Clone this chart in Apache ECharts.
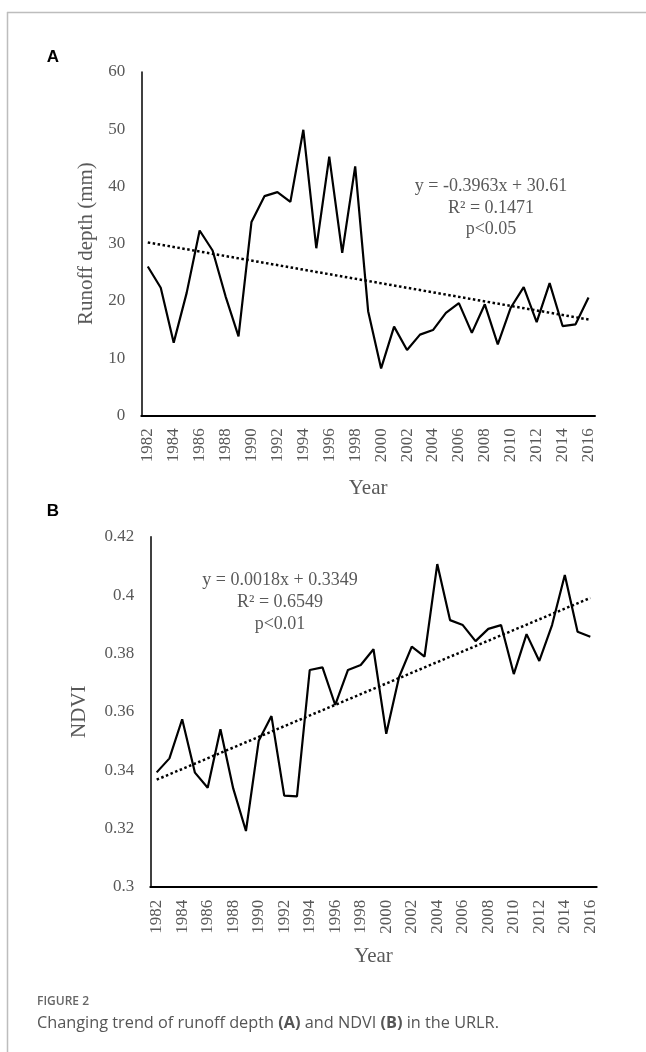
<!DOCTYPE html>
<html>
<head>
<meta charset="utf-8">
<style>
html,body{margin:0;padding:0;background:#fff;}
#c{width:646px;height:1052px;}
</style>
<script src="https://cdn.jsdelivr.net/npm/echarts@6/dist/echarts.min.js"></script>
</head>
<body>
<div id="c"></div>
<script>
const years = ['1982','1983','1984','1985','1986','1987','1988','1989','1990','1991','1992','1993','1994','1995','1996','1997','1998','1999','2000','2001','2002','2003','2004','2005','2006','2007','2008','2009','2010','2011','2012','2013','2014','2015','2016'];
const runoff = [26.0,22.3,12.7,21.4,32.3,28.8,20.8,13.8,33.8,38.3,39.0,37.3,49.9,29.2,45.2,28.4,43.5,18.2,8.2,15.5,11.4,14.1,14.9,17.9,19.6,14.4,19.4,12.4,18.8,22.4,16.3,23.1,15.6,15.9,20.6];
const ndvi = [0.3392,0.3440,0.3574,0.3391,0.3339,0.3540,0.3337,0.3191,0.3500,0.3585,0.3312,0.3310,0.3743,0.3752,0.3623,0.3743,0.3760,0.3814,0.3524,0.3718,0.3823,0.3789,0.4106,0.3914,0.3897,0.3842,0.3884,0.3897,0.3729,0.3866,0.3774,0.3897,0.4069,0.3874,0.3857];
const trendRunoff = [['1982', 30.21], ['2016', 16.74]];
const trendNdvi = [['1982', 0.3367], ['2016', 0.3990]];
const eqRunoff = 'y = -0.3963x + 30.61\nR² = 0.1471\np<0.05';
const eqNdvi = 'y = 0.0018x + 0.3349\nR² = 0.6549\np<0.01';

const SERIF = '"Liberation Serif","Times New Roman",serif';
const GRAY = '#595959';

const chart = echarts.init(document.getElementById('c'), null, {renderer:'canvas'});

function xAx(gridIndex, gap){
  return {
    type:'category', gridIndex, data: years, boundaryGap:true,
    axisLine:{show:true, lineStyle:{color:'#000', width:2}},
    axisTick:{show:false},
    axisLabel:{rotate:90, interval:1, margin:13, color:GRAY, fontFamily:SERIF, fontSize:17},
    name:'Year', nameLocation:'middle', nameGap:gap,
    nameTextStyle:{color:GRAY, fontFamily:SERIF, fontSize:21}
  };
}
function yAx(gridIndex, min, max, interval, name, gap, fmt){
  return {
    type:'value', gridIndex, min, max, interval,
    axisLine:{show:true, lineStyle:{color:'#000', width:1.5}},
    axisTick:{show:false}, splitLine:{show:false},
    axisLabel:{margin:16, color:GRAY, fontFamily:SERIF, fontSize:17, formatter:fmt},
    name, nameLocation:'middle', nameGap:gap,
    nameTextStyle:{color:GRAY, fontFamily:SERIF, fontSize:21}
  };
}

chart.setOption({
  animation:false,
  grid:[
    {left:141.3, top:72, width:453.7, height:343.3},
    {left:150.3, top:536.7, width:446.4, height:350}
  ],
  xAxis:[xAx(0, 63), xAx(1, 59)],
  yAxis:[
    yAx(0, 0, 60, 10, 'Runoff depth (mm)', 43, v => String(v)),
    yAx(1, 0.3, 0.42, 0.02, 'NDVI', 60, v => String(+v.toFixed(2)))
  ],
  series:[
    {type:'line', xAxisIndex:0, yAxisIndex:0, data:runoff, symbol:'none', lineStyle:{color:'#000', width:2.2}},
    {type:'line', xAxisIndex:0, yAxisIndex:0, data:trendRunoff, symbol:'none', lineStyle:{color:'#000', width:2.5, type:[2.5,2.5]}},
    {type:'line', xAxisIndex:1, yAxisIndex:1, data:ndvi, symbol:'none', lineStyle:{color:'#000', width:2.2}},
    {type:'line', xAxisIndex:1, yAxisIndex:1, data:trendNdvi, symbol:'none', lineStyle:{color:'#000', width:2.5, type:[2.5,2.5]}}
  ],
  graphic:[
    {type:'line', shape:{x1:7, y1:12.5, x2:646, y2:12.5}, style:{stroke:'#bdbdbd', lineWidth:1.5}},
    {type:'line', shape:{x1:7.5, y1:12, x2:7.5, y2:1052}, style:{stroke:'#bdbdbd', lineWidth:1.5}},
    {type:'text', x:53, y:57, style:{text:'A', font:'bold 17px "Liberation Sans",Arial,sans-serif', fill:'#000', textAlign:'center', textVerticalAlign:'middle'}},
    {type:'text', x:53, y:511, style:{text:'B', font:'bold 17px "Liberation Sans",Arial,sans-serif', fill:'#000', textAlign:'center', textVerticalAlign:'middle'}},
    {type:'text', x:491, y:208, style:{text:eqRunoff, font:'18px '+SERIF, fill:GRAY, textAlign:'center', textVerticalAlign:'middle', lineHeight:21.5}},
    {type:'text', x:280, y:602, style:{text:eqNdvi, font:'18px '+SERIF, fill:GRAY, textAlign:'center', textVerticalAlign:'middle', lineHeight:22}},
    {type:'text', x:37, y:1002, style:{text:'FIGURE 2', font:'600 12px "Open Sans",sans-serif', fill:'#666', textAlign:'left', textVerticalAlign:'middle'}},
    {type:'text', x:37, y:1023, style:{
      text:'Changing trend of runoff depth {b|(A)} and NDVI {b|(B)} in the URLR.',
      font:'16.3px "Open Sans",sans-serif', fill:'#555', textAlign:'left', textVerticalAlign:'middle',
      rich:{b:{fontWeight:'bold', fontSize:16.3, fontFamily:'"Open Sans",sans-serif', fill:'#555'}}
    }}
  ]
});
</script>
</body>
</html>
